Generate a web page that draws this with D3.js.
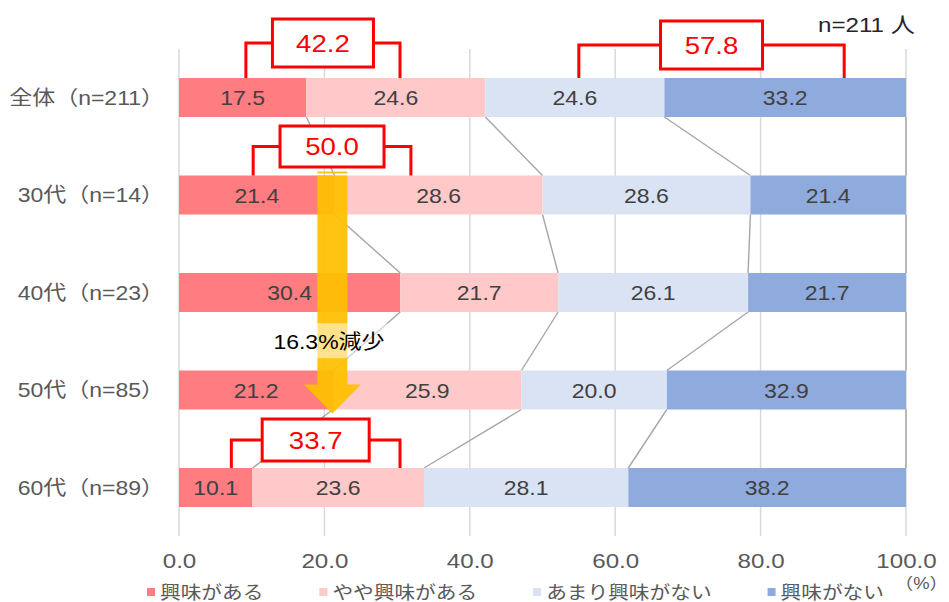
<!DOCTYPE html>
<html>
<head>
<meta charset="utf-8">
<script src="https://cdn.jsdelivr.net/npm/d3@7"></script>
<style>
  body { margin: 0; background: #fff; }
  svg { display: block; }
  text { font-family: "Liberation Sans", "Noto Sans CJK JP", sans-serif; }
</style>
</head>
<body>
<svg id="chart" width="949" height="602"></svg>
<script>
// ---- data ----
const groups = ["全体（n=211）", "30代（n=14）", "40代（n=23）", "50代（n=85）", "60代（n=89）"];
const seriesNames = ["興味がある", "やや興味がある", "あまり興味がない", "興味がない"];
const interested = [17.5, 21.4, 30.4, 21.2, 10.1];
const somewhat   = [24.6, 28.6, 21.7, 25.9, 23.6];
const notMuch    = [24.6, 28.6, 26.1, 20.0, 28.1];
const notAtAll   = [33.2, 21.4, 21.7, 32.9, 38.2];
const tickValues = [0, 20, 40, 60, 80, 100];
const sampleNote = "n=211 人";
const unitNote = "（%）";

// combined-share callouts (label text and the row they sit on)
const calloutLabels = ["42.2", "57.8", "50.0", "33.7"];
const calloutRows   = [0, 0, 1, 4];
const trendLabel = "16.3%減少";

// ---- styling / layout ----
const colors = ["#FF7C80", "#FFC9C9", "#DAE3F3", "#8FAADC"];
const SX = 1.15; // horizontal text stretch
const calloutLayout = [
  { legL: 9.2,  legR: 30.4, rise: 35, boxW: 101, boxH: 48 },
  { legL: 55.0, legR: 91.5, rise: 33, boxW: 102, boxH: 48 },
  { legL: 10.2, legR: 31.9, rise: 29, boxW: 104, boxH: 41 },
  { legL: 7.2,  legR: 30.4, rise: 28, boxW: 107, boxH: 42 }
];

const svg = d3.select("#chart");

const x = d3.scaleLinear().domain([0, 100]).range([179, 906]);
const y = d3.scaleBand().domain(d3.range(groups.length))
  .range([48.75, 536.25]).paddingInner(0.6).paddingOuter(0.3);
const bw = y.bandwidth();

const rows = groups.map((g, i) => ({
  group: g, s0: interested[i], s1: somewhat[i], s2: notMuch[i], s3: notAtAll[i]
}));
const stack = d3.stack().keys(["s0", "s1", "s2", "s3"]).offset(d3.stackOffsetExpand)(rows);
stack.forEach(layer => layer.forEach(d => { d[0] *= 100; d[1] *= 100; }));

function stretch(sel, px, py) {
  return sel.attr("transform", `translate(${px},${py}) scale(${SX},1)`);
}

// gridlines
svg.append("g").selectAll("line").data(tickValues).join("line")
  .attr("x1", d => x(d)).attr("x2", d => x(d))
  .attr("y1", 49).attr("y2", 536)
  .attr("stroke", "#D9D9D9").attr("stroke-width", 1.5);

// series connector lines between neighbouring bars
const connectors = [];
for (let i = 0; i < groups.length - 1; i++) {
  stack.forEach(layer => {
    connectors.push({
      x1: x(layer[i][1]), y1: y(i) + bw,
      x2: x(layer[i + 1][1]), y2: y(i + 1)
    });
  });
}
svg.append("g").selectAll("line").data(connectors).join("line")
  .attr("x1", d => d.x1).attr("y1", d => d.y1)
  .attr("x2", d => d.x2).attr("y2", d => d.y2)
  .attr("stroke", "#A6A6A6").attr("stroke-width", 1.4);

// stacked bars
const layers = svg.append("g").selectAll("g").data(stack).join("g")
  .attr("fill", (d, k) => colors[k]);
layers.selectAll("rect").data(d => d).join("rect")
  .attr("x", d => x(d[0]))
  .attr("width", d => x(d[1]) - x(d[0]))
  .attr("y", (d, i) => y(i))
  .attr("height", bw);

// value labels
const valueArrays = [interested, somewhat, notMuch, notAtAll];
const labelData = [];
stack.forEach((layer, k) => layer.forEach((d, i) => {
  labelData.push({ cx: x((d[0] + d[1]) / 2), cy: y(i) + bw / 2, v: valueArrays[k][i] });
}));
svg.append("g").selectAll("text").data(labelData).join("text")
  .each(function (d) { stretch(d3.select(this), d.cx, d.cy + 7.5); })
  .attr("text-anchor", "middle")
  .attr("font-size", 20).attr("fill", "#404040")
  .text(d => d.v.toFixed(1));

// category labels
svg.append("g").selectAll("text").data(groups).join("text")
  .each(function (d, i) { stretch(d3.select(this), 164, y(i) + bw / 2 + 7); })
  .attr("text-anchor", "end")
  .attr("font-size", 20).attr("fill", "#595959")
  .text(d => d);

// x axis tick labels
const axis = svg.append("g").attr("transform", "translate(0,536)")
  .call(d3.axisBottom(x).tickValues(tickValues).tickSize(0).tickPadding(17).tickFormat(d3.format(".1f")));
axis.select(".domain").remove();
axis.selectAll("text")
  .attr("font-size", 21).attr("fill", "#595959")
  .attr("font-family", "\"Liberation Sans\", \"Noto Sans CJK JP\", sans-serif")
  .attr("transform", `scale(${SX},1)`);

// callout brackets
const red = "#FF0000";
const cg = svg.append("g");
calloutLabels.forEach((lab, j) => {
  const L = calloutLayout[j];
  const top = y(calloutRows[j]);
  const xl = x(L.legL), xr = x(L.legR);
  const hy = top - L.rise;
  const mid = (xl + xr) / 2;
  cg.append("path")
    .attr("d", `M${xl},${top} V${hy} H${xr} V${top}`)
    .attr("fill", "none").attr("stroke", red).attr("stroke-width", 3);
  cg.append("rect")
    .attr("x", mid - L.boxW / 2).attr("y", hy - L.boxH / 2)
    .attr("width", L.boxW).attr("height", L.boxH)
    .attr("fill", "#fff").attr("stroke", red).attr("stroke-width", 3);
  stretch(cg.append("text"), mid, hy + 8.5)
    .attr("text-anchor", "middle").attr("font-size", 24).attr("fill", red)
    .text(lab);
});

// downward trend arrow for the top share
const ax = x(21.1);
const ay0 = y(1) - 4;
const tip = y(3) + bw + 4;
const headTop = tip - 29;
const ag = svg.append("g").attr("fill", "#FFC000").attr("fill-opacity", 0.93);
ag.append("rect").attr("x", ax - 15).attr("y", ay0).attr("width", 30).attr("height", 2);
ag.append("path").attr("d",
  `M${ax - 15},${ay0 + 4} H${ax + 15} V${headTop} H${ax + 28.5} L${ax},${tip} L${ax - 28.5},${headTop} H${ax - 15} Z`);

const ly = (y(2) + bw + y(3)) / 2;
svg.append("rect")
  .attr("x", 270).attr("y", ly - 18).attr("width", 118).attr("height", 35)
  .attr("fill", "#fff").attr("fill-opacity", 0.5);
stretch(svg.append("text"), (270 + 388) / 2, ly + 8)
  .attr("text-anchor", "middle").attr("font-size", 20).attr("fill", "#000")
  .text(trendLabel);

// notes
stretch(svg.append("text"), 818, 32)
  .attr("font-size", 21).attr("fill", "#262626").text(sampleNote);
stretch(svg.append("text"), 948, 589)
  .attr("text-anchor", "end")
  .attr("font-size", 16).attr("fill", "#595959").text(unitNote);

// legend
const lg = svg.append("g");
let lx = 147;
seriesNames.forEach((name, k) => {
  lg.append("rect").attr("x", lx).attr("y", 588).attr("width", 8).attr("height", 8)
    .attr("fill", colors[k]);
  const t = stretch(lg.append("text"), lx + 13, 599)
    .attr("font-size", 18).attr("fill", "#595959").text(name);
  const w = t.node().getComputedTextLength() * SX;
  lx += 13 + w + 56;
});
</script>
</body>
</html>
